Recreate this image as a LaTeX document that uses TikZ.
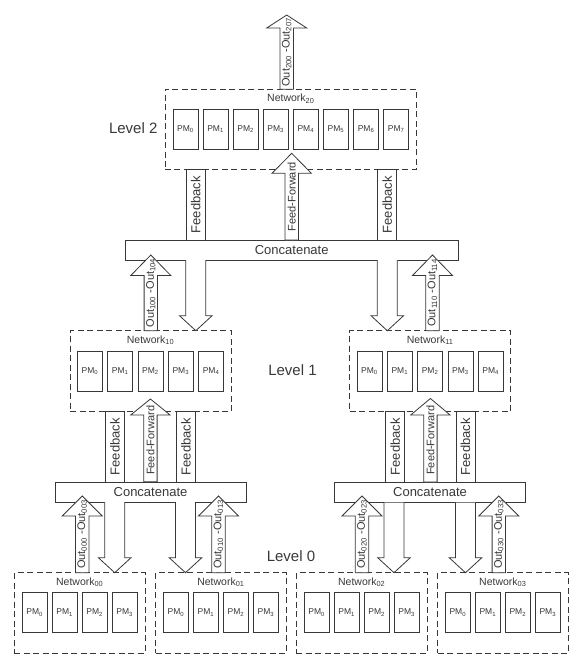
\documentclass[tikz,border=0pt]{standalone}
\usepackage{fontspec}
\setmainfont{Liberation Sans}
\begin{document}
\begin{tikzpicture}[x=1pt,y=-1pt,line width=0.8pt,color=black!78,
  net/.style={draw,dashed,dash pattern=on 6pt off 3.5pt,minimum height=80pt,inner sep=0pt},
  pm/.style={draw,fill=white,minimum width=25pt,minimum height=40pt,inner sep=0pt,font=\fontsize{8.5}{10}\selectfont},
  cat/.style={draw,fill=white,minimum height=20pt,inner sep=0pt,font=\fontsize{13}{15}\selectfont},
  fb/.style={draw,fill=white,rotate=90,minimum width=70.5pt,minimum height=19pt,inner sep=0pt,font=\fontsize{13}{15}\selectfont},
  blk/.style={draw,fill=white,line join=miter},
  lvl/.style={font=\fontsize{15}{17}\selectfont}]
\useasboundingbox (0,0) rectangle (576,657);

% networks
\node[net,minimum width=251.7pt] (n20) at (290.8,129.3) {};
\node[font=\fontsize{10.5}{12}\selectfont] (t20) at ([yshift=-10pt]n20.north) {Network\textsubscript{20}};
\foreach \k in {0,...,7}
  \node[pm] (p20\k) at ({290.8+(\k-3.5)*30.1},129.3) {PM\textsubscript{\k}};
\foreach \j/\cx in {0/150.5,1/430.1} {
  \node[net,minimum width=161pt,minimum height=81pt] (n1\j) at (\cx,371.2) {};
  \node[font=\fontsize{10.5}{12}\selectfont] (t1\j) at ([yshift=-10pt]n1\j.north) {Network\textsubscript{1\j}};
  \foreach \k in {0,...,4}
    \node[pm] (p1\j\k) at ({\cx+(\k-2)*30.3},371.3) {PM\textsubscript{\k}};
}
\foreach \j/\cx in {0/79.7,1/220.9,2/361.7,3/502.8} {
  \node[net,minimum width=130.5pt,minimum height=80.6pt] (n0\j) at (\cx,613) {};
  \node[font=\fontsize{10.5}{12}\selectfont] (t0\j) at ([yshift=-10pt]n0\j.north) {Network\textsubscript{0\j}};
  \foreach \k in {0,...,3}
    \node[pm] (p0\j\k) at ({\cx+(\k-1.5)*30},612.7) {PM\textsubscript{\k}};
}

% levels
\node[lvl] (l2) at (133.2,128.3) {Level 2};
\node[lvl] (l1) at (292.5,370.3) {Level 1};
\node[lvl] (l0) at (291,556) {Level 0};

% feedback
\foreach \i/\cx/\cy in {a/195.7/204.7,b/387.2/204.7,c/115/446.7,d/185.9/446.7,e/395.2/446.7,f/465.5/446.7}
  \node[fb] (fb\i) at (\cx,\cy) {Feedback};

% concatenate
\node[cat,minimum width=333pt] (c2) at (291.7,250) {Concatenate};
\node[cat,minimum width=191pt] (c10) at (150.5,492) {Concatenate};
\node[cat,minimum width=191.4pt] (c11) at (430,492.3) {Concatenate};

% feed-forward
\foreach \i/\cx/\ty/\by/\bt in {a/291.7/153.3/173.3/240,b/150.4/399/415/481.7,c/430.4/398.5/415/482} {
  \draw[blk] (\cx-6.7,\bt) -- (\cx-6.7,\by) -- (\cx-19.7,\by) -- (\cx,\ty) -- (\cx+19.7,\by) -- (\cx+6.7,\by) -- (\cx+6.7,\bt) -- cycle;
  \node[rotate=90,font=\fontsize{11}{13}\selectfont] (ff\i) at (\cx,{(\ty+\bt)/2}) {Feed-Forward};
}

% outputs
\foreach \cx/\ty/\by/\bt/\s/\e in {286.7/15/28/89.3/200/207,150.8/255/275.5/330.7/100/104,432.5/255/275.5/330.7/110/114,
  82.2/496/516/572.7/000/003,218.5/496/516/572.7/010/013,362/496/516/572.7/020/023,498.8/496/516/572.7/030/033} {
  \draw[blk] (\cx-6.7,\bt) -- (\cx-6.7,\by) -- (\cx-20,\by) -- (\cx,\ty) -- (\cx+20,\by) -- (\cx+6.7,\by) -- (\cx+6.7,\bt) -- cycle;
  \node[rotate=90,font=\fontsize{11}{13}\selectfont,inner sep=0pt] (o\s) at (\cx,{(\ty+\bt)/2}) {Out\textsubscript{\s} -Out\textsubscript{\e}};
}

% feedback down
\foreach \cx/\tp/\tip in {195.8/260/330.7,387.3/260/330.7,114.7/502/572.7,185.5/502/572.7,394/502.7/572.7,465.5/502.7/572.7}
  \draw[blk] (\cx-10,\tp) -- (\cx-10,\tip-15) -- (\cx-16.3,\tip-15) -- (\cx,\tip) -- (\cx+16.3,\tip-15) -- (\cx+10,\tip-15) -- (\cx+10,\tp);
\end{tikzpicture}
\end{document}
